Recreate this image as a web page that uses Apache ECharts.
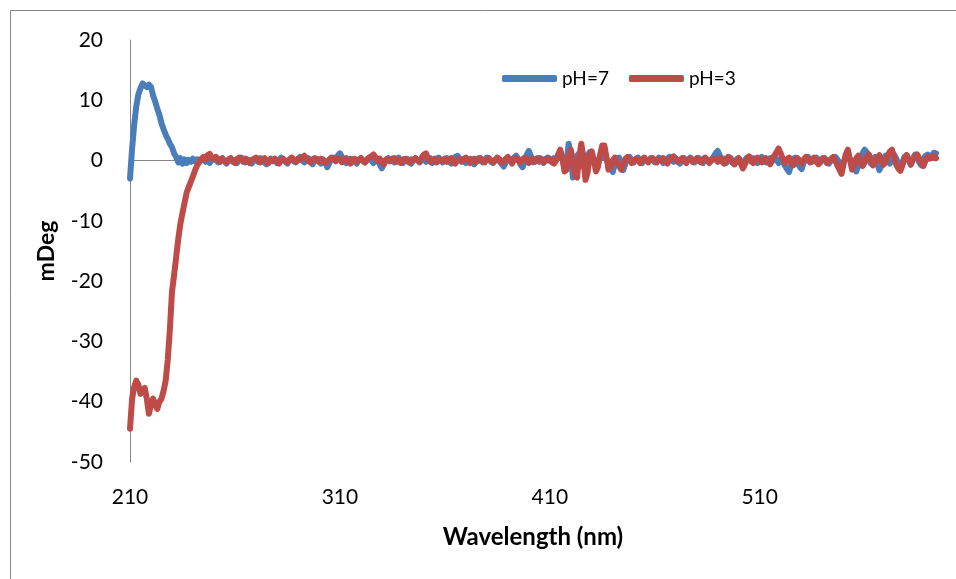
<!DOCTYPE html>
<html>
<head>
<meta charset="utf-8">
<script src="https://cdn.jsdelivr.net/npm/echarts@6/dist/echarts.min.js"></script>
<style>
html,body{margin:0;padding:0;background:#fff;}
#chart{width:956px;height:579px;}
</style>
</head>
<body>
<div id="chart"></div>
<script>
// Wavelength categories (nm), 1 nm step from 210 to 594
var wlStart = 210, wlEnd = 594;
var wavelengths = [];
for (var w = wlStart; w <= wlEnd; w++) wavelengths.push(String(w));

var seriesNames = ['pH=7', 'pH=3'];

var ph7 = [
 -3, 2, 6, 9, 11, 12, 12.8, 12.5, 12.2, 12.6,
 12.2, 10.8, 9.8, 8.6, 7.6, 6.2, 5.2, 4.3, 3.6, 2.8,
 2.2, 1.2, 0.6, -0.3, 0.4, -0.5, 0.2, -0.4, 0.1, -0.2,
 0.3, -0.1, 0.2, -0.3, 0.1, 0.4, -0.2, 0.1, -0.4, 0.2,
 0.5, 0.1, -0.3, 0.2, 0.4, -0.1, -0.5, 0.0, 0.3, -0.2,
 0.1, -0.4, 0.2, 0.5, -0.1, -0.3, 0.2, 0.0, -0.5, 0.1,
 0.3, -0.2, 0.4, 0.1, -0.3, -0.6, 0.0, 0.3, -0.1, 0.2,
 -0.4, 0.1, 0.5, 0.2, -0.2, -0.5, 0.1, 0.4, -0.1, -0.3,
 0.2, 0.6, 0.1, -0.3, 0.0, 0.4, -0.2, -0.6, 0.1, 0.3,
 -0.1, -0.5, 0.2, -0.3, -1.1, -0.4, 0.3, 0.5, 0.2, 0.8,
 1.2, 0.6, -0.1, -0.4, 0.2, 0.3, -0.2, 0.1, -0.5, 0.2,
 0.4, -0.1, -0.3, 0.2, 0.5, 0.0, -0.4, 0.3, 0.1, -0.6,
 -1.3, -0.5, 0.2, 0.4, -0.1, 0.3, -0.3, 0.1, 0.5, -0.2,
 -0.4, 0.2, 0.3, -0.1, -0.5, 0.1, 0.4, 0.0, -0.3, 0.2,
 0.3, -0.2, 0.1, 0.4, -0.4, -0.1, 0.2, 0.5, 0.0, -0.3,
 0.1, 0.4, -0.2, -0.5, 0.2, 0.6, 0.8, 0.3, -0.2, 0.1,
 -0.4, 0.2, 0.3, -0.1, -0.6, 0.0, 0.4, 0.2, -0.3, 0.1,
 0.5, 0.2, -0.2, -0.4, 0.1, 0.3, -0.1, -0.5, -1.0, -0.3,
 0.4, 0.2, -0.1, 0.5, 0.8, 0.2, -0.6, -1.1, -0.2, 0.9,
 1.6, 0.7, -0.3, 0.1, 0.4, -0.2, 0.3, -0.4, 0.2, 0.5,
 0.1, -0.3, 0.4, 0.2, 0.8, 1.3, 0.3, -1.2, -0.2, 2.8,
 1.0, -2.8, -1.0, 0.8, 1.2, 0.4, -1.0, -0.6, 0.9, 1.4,
 0.8, 0.2, -0.6, -0.2, 0.6, 1.0, 0.4, 0.2, -0.4, -1.2,
 -1.9, -0.6, 0.3, 0.5, -0.4, -1.6, -0.5, 0.3, 0.6, 0.1,
 -0.3, 0.2, 0.5, -0.1, -0.4, 0.3, 0.1, -0.2, 0.4, 0.2,
 -0.3, 0.1, 0.5, 0.2, -0.4, 0.0, 0.3, 0.6, 0.1, -0.2,
 0.3, -0.1, -0.5, 0.2, 0.4, -0.2, 0.1, 0.5, 0.0, -0.3,
 0.2, 0.4, -0.1, -0.4, 0.3, 0.1, -0.3, 0.2, 0.6, 1.2,
 1.6, 0.8, -0.2, 0.3, -0.4, 0.1, 0.5, -0.2, -0.6, 0.2,
 0.4, -0.3, -0.8, 0.1, 0.5, 0.2, -0.2, 0.4, 0.0, -0.4,
 0.2, 0.6, 0.1, -0.3, 0.2, 0.4, -0.1, 0.5, 0.2, -0.4,
 0.3, -0.2, -0.8, -1.4, -1.9, -0.6, 0.3, 0.5, -0.4, -1.0,
 -1.4, -0.3, 0.4, 0.6, 0.2, -0.2, 0.3, 0.5, 0.1, -0.3,
 0.2, 0.4, -0.1, -0.5, 0.0, 0.3, 0.6, 0.2, -0.4, -0.8,
 -0.3, 0.5, 0.8, 0.2, -0.6, -1.2, -1.8, -0.8, 0.4, 1.2,
 1.8, 1.4, 0.2, -0.5, 0.3, 0.6, -0.4, -1.6, -0.9, 0.4,
 0.8, 0.3, -0.5, 0.2, 1.0, 0.4, -0.6, -1.2, -0.3, 0.6,
 0.9, 0.1, -0.7, 0.3, 1.0, 0.7, -0.3, -0.8, 0.2, 0.8,
 1.0, 0.4, 0.9, 1.3, 1.2
];

var ph3 = [
 -44.5, -39.5, -37.5, -36.5, -37.2, -38.7, -38.3, -37.7, -39.5, -42,
 -40.5, -39.5, -40.5, -41.2, -40, -39.5, -38.2, -36.5, -33, -28,
 -21.8, -19, -16, -13, -10.5, -8.7, -7, -5.3, -4.4, -3.5,
 -2.6, -1.6, -0.8, -0.2, 0.3, 0.6, 0.2, 0.9, 1.1, 0.4,
 0.2, 0.6, 0.1, -0.2, 0.3, 0.0, -0.3, 0.2, 0.4, -0.1,
 -0.4, 0.2, 0.5, 0.1, -0.2, 0.3, 0.0, -0.4, 0.1, 0.3,
 0.5, 0.1, -0.3, 0.2, 0.4, -0.1, -0.4, 0.2, 0.0, 0.3,
 -0.2, -0.5, 0.1, 0.3, -0.1, -0.3, 0.2, 0.5, 0.1, -0.2,
 0.3, 0.1, 0.5, 0.8, 0.4, -0.1, -0.3, 0.2, 0.4, 0.1,
 -0.2, 0.3, 0.1, -0.4, -0.2, 0.2, 0.5, 0.3, -0.1, 0.4,
 0.2, -0.3, 0.1, 0.4, -0.1, -0.5, 0.2, 0.3, -0.2, 0.1,
 0.4, 0.0, -0.3, 0.2, 0.5, 0.7, 1.0, 0.5, -0.1, 0.3,
 -0.2, -0.6, 0.1, 0.3, -0.1, 0.2, 0.4, -0.2, 0.1, -0.4,
 0.2, 0.3, -0.1, -0.3, 0.2, 0.0, 0.4, 0.1, -0.2, 0.5,
 1.0, 1.2, 0.4, -0.2, 0.1, 0.3, -0.3, 0.0, 0.2, -0.1,
 0.3, -0.2, 0.1, 0.4, -0.3, -0.5, 0.1, 0.2, -0.1, 0.3,
 0.5, 0.1, -0.4, 0.2, 0.3, -0.2, 0.0, 0.4, 0.1, -0.3,
 0.2, 0.4, 0.0, -0.3, 0.1, 0.5, 0.2, -0.4, -0.2, 0.3,
 0.6, 0.1, -0.5, 0.2, 0.4, 0.0, -0.3, 0.2, 0.5, 0.1,
 -0.4, 0.2, 0.3, -0.2, 0.1, 0.4, -0.1, -0.3, 0.2, 0.0,
 0.3, -0.2, -0.5, 0.0, 1.0, 1.8, 0.5, -1.8, -1.5, 0.5,
 1.8, 0.0, -2.5, -2.8, 0.5, 2.8, 0.5, -3.2, -2.0, 1.0,
 1.5, 0.0, -1.8, -1.0, 1.0, 2.5, 2.5, 0.5, -1.5, -1.0,
 0.0, 0.5, -0.3, -0.8, -1.5, -0.6, 0.3, 0.6, 0.2, -0.4,
 -0.2, 0.3, 0.1, -0.4, 0.2, 0.5, 0.0, -0.3, 0.2, 0.4,
 0.1, -0.3, 0.2, 0.0, 0.4, -0.2, -0.5, 0.1, 0.5, 0.7,
 0.3, -0.2, 0.1, 0.4, -0.1, -0.4, 0.2, 0.3, -0.2, 0.1,
 0.4, -0.1, -0.3, 0.2, 0.5, 0.1, -0.4, 0.0, 0.3, 0.2,
 -0.2, 0.4, 0.1, -0.5, 0.2, 0.6, 0.3, -0.3, -0.6, 0.0,
 0.4, -0.5, -1.3, -0.6, 0.3, 0.7, 0.2, -0.4, 0.1, 0.5,
 0.2, -0.3, 0.0, 0.4, -0.2, -0.6, 0.3, 0.8, 1.4, 2.0,
 1.2, 0.3, -0.4, 0.2, 0.5, -0.3, -0.8, 0.1, 0.4, 0.0,
 -0.5, 0.2, 0.6, 0.1, -0.3, 0.3, 0.5, -0.2, -0.6, 0.1,
 0.4, 0.2, -0.4, -0.1, 0.3, 0.6, 0.0, -0.8, -1.5, -2.2,
 -0.5, 1.0, 1.8, 0.2, -1.5, -0.6, 0.4, 0.8, -0.2, -0.9,
 -0.3, 0.6, 1.0, 0.2, -0.8, -0.4, 0.5, 0.9, 0.1, -0.7,
 -0.2, 0.8, 1.5, 1.8, 0.6, -0.6, -1.3, -1.7, -0.8, 0.4,
 0.9, 0.2, -0.6, 0.1, 0.7, 1.0, 0.4, -0.4, -0.9, 0.0,
 0.6, 0.3, 0.5, 0.8, 0.4
];

var yMin = -50, yMax = 20, yStep = 10;
var FONT = 'Lato, "Liberation Sans", sans-serif';

var chart = echarts.init(document.getElementById('chart'), null, {renderer: 'canvas'});
chart.setOption({
  animation: false,
  backgroundColor: '#ffffff',
  graphic: [{
    type: 'rect', silent: true, z: -10,
    shape: {x: 10.5, y: 10.5, width: 1200, height: 1200},
    style: {fill: 'none', stroke: '#868686', lineWidth: 1}
  }],
  legend: {
    data: seriesNames,
    left: 497, top: 64,
    icon: 'roundRect',
    itemWidth: 55, itemHeight: 7,
    itemGap: 20,
    textStyle: {fontFamily: FONT, fontSize: 19, color: '#000'}
  },
  grid: {left: 130, right: 20, top: 40, bottom: 117, containLabel: false},
  xAxis: [{
    type: 'category',
    data: wavelengths,
    boundaryGap: false,
    axisLine: {show: false, onZero: false},
    axisTick: {show: false},
    splitLine: {show: false},
    axisLabel: {interval: 99, margin: 25, fontFamily: FONT, fontSize: 21, color: '#000'},
    name: 'Wavelength (nm)',
    nameLocation: 'middle',
    nameGap: 63,
    nameTextStyle: {fontFamily: FONT, fontSize: 24, fontWeight: 'bold', color: '#000'}
  }, {
    type: 'category',
    data: wavelengths,
    boundaryGap: false,
    position: 'bottom',
    axisLine: {show: true, onZero: true, lineStyle: {color: '#868686', width: 1}},
    axisTick: {show: false},
    axisLabel: {show: false},
    splitLine: {show: false}
  }],
  yAxis: {
    type: 'value',
    min: yMin, max: yMax, interval: yStep,
    axisLine: {show: true, lineStyle: {color: '#868686', width: 1}},
    axisTick: {show: false},
    splitLine: {show: false},
    axisLabel: {margin: 27, fontFamily: FONT, fontSize: 21, color: '#000'},
    name: 'mDeg',
    nameLocation: 'middle',
    nameGap: 72,
    nameTextStyle: {fontFamily: FONT, fontSize: 23, fontWeight: 'bold', color: '#000'}
  },
  series: [{
    name: seriesNames[0],
    type: 'line',
    data: ph7,
    showSymbol: false,
    symbol: 'none',
    z: 3,
    itemStyle: {color: '#4A7EBB'},
    lineStyle: {color: '#4A7EBB', width: 6, cap: 'round', join: 'round'}
  }, {
    name: seriesNames[1],
    type: 'line',
    data: ph3,
    showSymbol: false,
    symbol: 'none',
    z: 4,
    itemStyle: {color: '#BE4B48'},
    lineStyle: {color: '#BE4B48', width: 6, cap: 'round', join: 'round'}
  }]
});
</script>
</body>
</html>
